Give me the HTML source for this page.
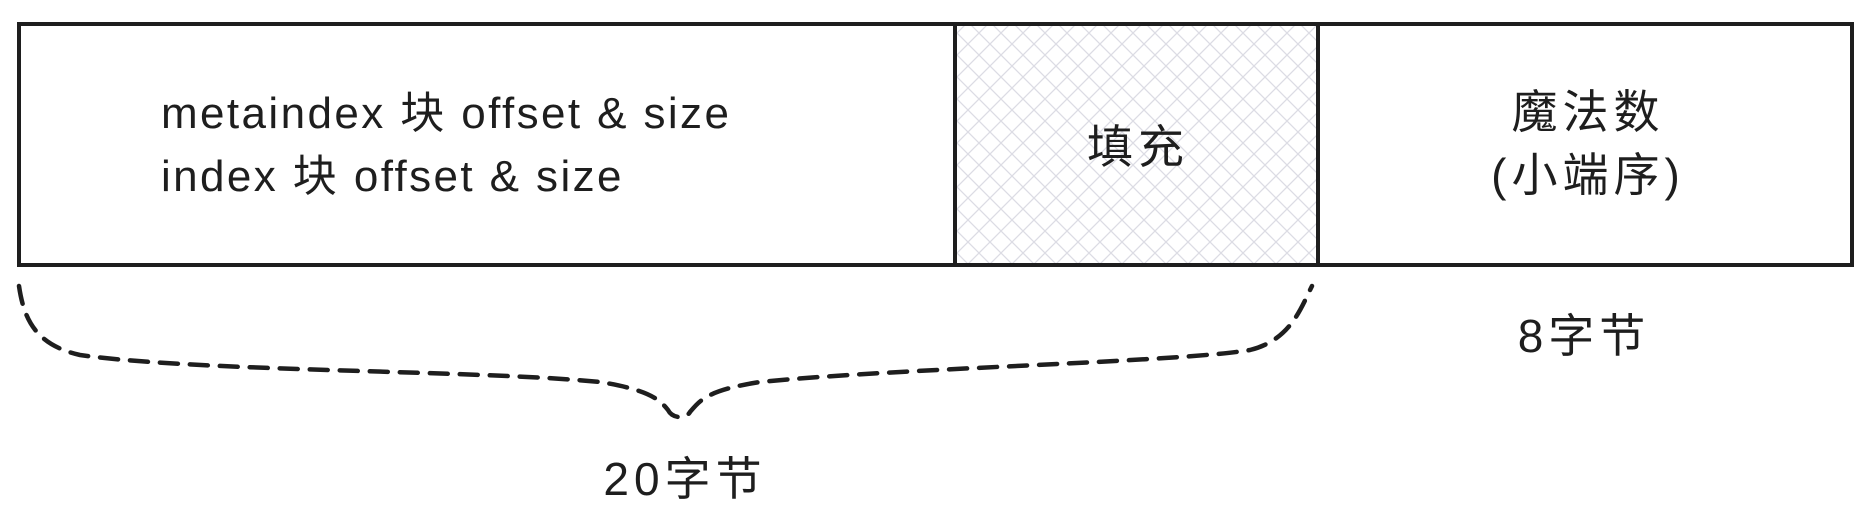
<!DOCTYPE html>
<html><head><meta charset="utf-8"><style>
html,body{margin:0;padding:0;background:#fff;width:1870px;height:528px;overflow:hidden}
text{font-family:"Liberation Sans","Noto Sans CJK SC",sans-serif;fill:#1e1e1e}
</style></head><body>
<svg width="1870" height="528" viewBox="0 0 1870 528" xmlns="http://www.w3.org/2000/svg">
<defs>
<pattern id="h" width="22" height="22" patternUnits="userSpaceOnUse">
<path d="M0 0L22 22M22 0L0 22" stroke="#dcdce4" stroke-width="1.3"/>
</pattern>
</defs>
<rect x="955" y="24" width="363" height="241" fill="url(#h)"/>
<g fill="none" stroke="#1e1e1e" stroke-width="4">
<rect x="19" y="24" width="1833" height="241"/>
<line x1="955" y1="24" x2="955" y2="265"/>
<line x1="1318" y1="24" x2="1318" y2="265"/>
<path d="M19 286 C24 320 36 345 80 355 C200 372 480 370 600 382 C650 390 660 400 668 410 C672 418 685 420 690 412 C700 400 708 390 760 382 C900 368 1180 362 1250 350 C1290 340 1300 310 1312 286" stroke-dasharray="18 12" stroke-width="4.5" stroke-linecap="round"/>
</g>
<g font-size="44" letter-spacing="2.4">
<text x="161" y="128">metaindex 块 offset &amp; size</text>
<text x="161" y="191">index 块 offset &amp; size</text>
</g>
<g font-size="46" letter-spacing="5" text-anchor="middle">
<text x="1138" y="163">填充</text>
<text x="1588" y="128">魔法数</text>
<text x="1588" y="191">(小端序)</text>
<text x="1584" y="352">8字节</text>
<text x="685" y="495">20字节</text>
</g>
</svg>
</body></html>
